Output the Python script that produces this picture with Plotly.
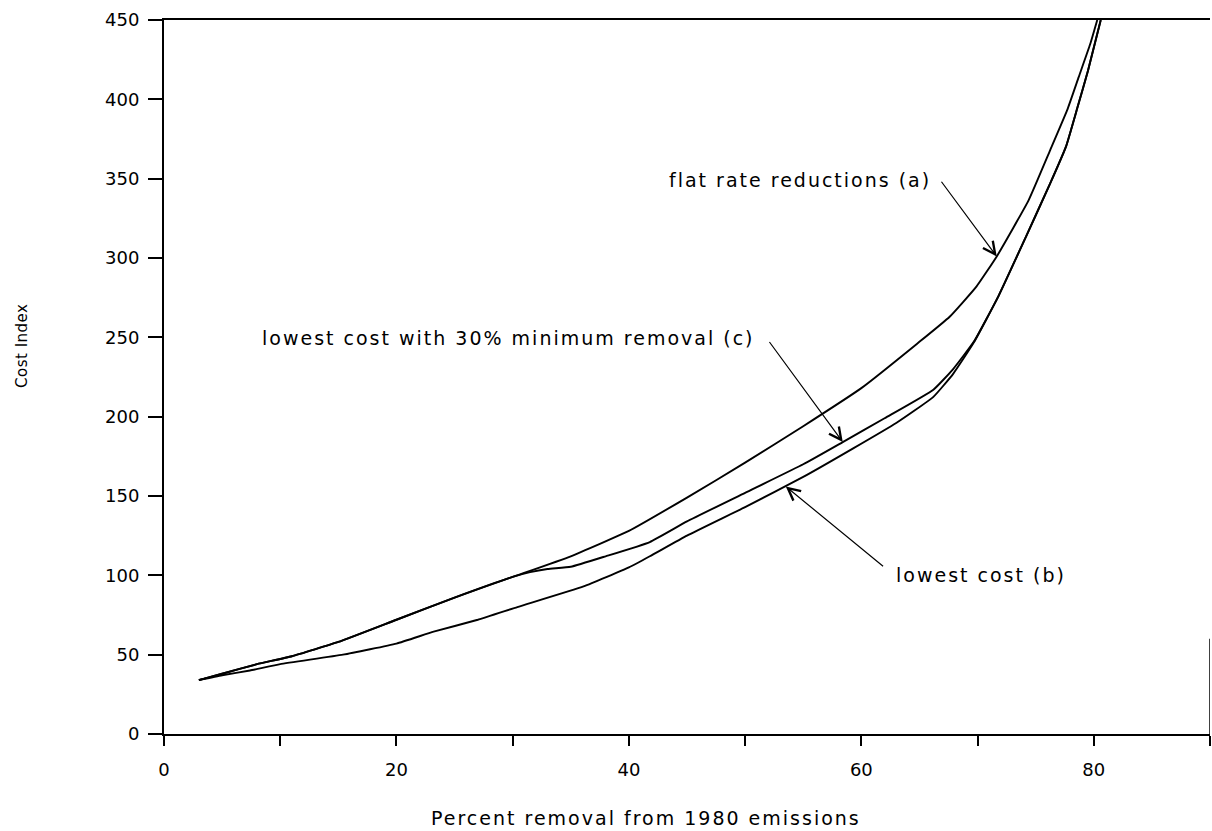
import plotly.graph_objects as go

# Curve (a) flat rate reductions
x_a = [3, 5, 8, 11, 15, 20, 25, 30, 35, 40, 45, 50, 55, 60, 64.8, 67.6, 69.9, 71.65, 74.4, 76.25, 77.7, 78.7, 79.7, 80.3]
y_a = [34, 38, 44, 49, 58, 72, 86, 99, 112, 128, 149, 171, 194, 218, 246, 263, 282, 301, 336.5, 368, 393, 414, 435, 450]

# Curve (c) lowest cost with 30% minimum removal
x_c = [3, 5, 8, 11, 15, 20, 25, 30, 31.5, 33, 35, 38, 41.8, 45, 50, 55, 58.4, 62, 66.2, 67.9, 69.7, 71.8, 74.2, 76.25, 77.6, 78.6, 79.5, 80.6]
y_c = [34, 38, 44, 49, 58, 72, 86, 99, 102, 104, 105.4, 112, 121, 134, 152, 170, 184, 199, 217, 230, 247.5, 276, 314, 347, 370, 395, 418, 450]

# Curve (b) lowest cost
x_b = [3, 5, 7.4, 10, 15.4, 20, 23.2, 27, 30.4, 36.1, 40, 41.8, 45, 50, 55, 59.3, 63, 66.2, 67.9, 69.7, 71.8, 74.2, 76.25, 77.6, 78.6, 79.5, 80.6]
y_b = [34, 37, 40, 44, 50, 57, 64.5, 72, 80, 93, 105, 112, 125, 143, 162, 180, 196, 212.5, 227, 247, 276, 314, 347, 370, 395, 418, 450]

x_ticks = [0, 10, 20, 30, 40, 50, 60, 70, 80, 90]
x_ticktext = ["0", "", "20", "", "40", "", "60", "", "80", ""]
y_ticks = [0, 50, 100, 150, 200, 250, 300, 350, 400, 450]

FONT = "DejaVu Sans"


def spaced(t, px=2.0):
    return '<span style="letter-spacing:%spx">%s</span>' % (px, t)


fig = go.Figure()
for xs, ys in [(x_a, y_a), (x_c, y_c), (x_b, y_b)]:
    fig.add_trace(go.Scatter(x=xs, y=ys, mode="lines",
                             line=dict(color="black", width=1.9, shape="spline", smoothing=0.4),
                             showlegend=False, hoverinfo="skip"))

# (text, text x, text y, anchor, arrow tail x, tail y, arrow tip x, tip y)
labels = [
    ("flat rate reductions (a)", 66.2, 349, "right", 66.8, 349, 71.65, 301),
    ("lowest cost with 30% minimum removal (c)", 51.0, 249.5, "right", 52.0, 248, 58.4, 184),
    ("lowest cost (b)", 62.8, 100, "left", 62.0, 105, 53.5, 156),
]
for text, tx, ty, anc, ax0, ay0, x1, y1 in labels:
    fig.add_annotation(x=tx, y=ty, text=spaced(text), showarrow=False, xref="x", yref="y",
                       xanchor=anc, yanchor="middle",
                       font=dict(family=FONT, size=19, color="black"))
    fig.add_annotation(x=x1, y=y1, ax=ax0, ay=ay0, axref="x", ayref="y", xref="x", yref="y",
                       text="", showarrow=True, arrowhead=5, arrowsize=2.0, arrowwidth=1.2, arrowcolor="black")

fig.add_annotation(text=spaced("Percent removal from 1980 emissions"), x=0.4608, xref="paper", y=-0.1176,
                   yref="paper", xanchor="center", yanchor="middle", showarrow=False,
                   font=dict(family=FONT, size=19, color="black"))
fig.add_annotation(text=spaced("Cost Index", 0.5), x=-0.1358, xref="paper", y=0.5434, yref="paper",
                   textangle=-90, xanchor="center", yanchor="middle", showarrow=False,
                   font=dict(family=FONT, size=15, color="black"))

fig.add_shape(type="line", x0=90, x1=90, y0=0, y1=60, xref="x", yref="y", line=dict(color="black", width=1.5))

fig.update_xaxes(range=[0, 90], tickvals=x_ticks, ticktext=x_ticktext, ticks="outside", ticklen=10, tickwidth=1.5,
                 tickcolor="black", showline=True, linecolor="black", linewidth=2, mirror=True, showgrid=False,
                 zeroline=False, tickfont=dict(family=FONT, size=18, color="black"), ticklabelstandoff=8)
fig.update_yaxes(range=[0, 450], tickvals=y_ticks, ticks="outside", ticklen=14, tickwidth=2, tickcolor="black",
                 showline=True, linecolor="black", linewidth=2, showgrid=False, zeroline=False,
                 tickfont=dict(family=FONT, size=18, color="black"), ticklabelstandoff=5)

fig.update_layout(width=1212, height=831, margin=dict(l=164, r=2, t=20, b=97),
                  plot_bgcolor="white", paper_bgcolor="white", showlegend=False)

fig.write_html("out.html")
